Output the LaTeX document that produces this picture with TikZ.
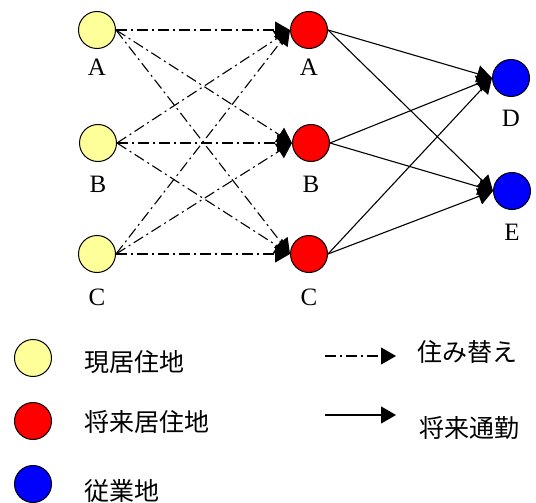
\documentclass[tikz,border=0pt]{standalone}
\usepackage{fontspec}
\setmainfont{Liberation Serif}
\newfontfamily\cjk{Noto Sans CJK JP}
\usetikzlibrary{arrows.meta}
\definecolor{curres}{HTML}{FFFF99}
\definecolor{futres}{HTML}{FF0000}
\definecolor{work}{HTML}{0000FF}
\tikzset{
  place/.style={circle, draw=black, line width=1pt, minimum size=37pt, inner sep=0pt},
  lbl/.style={font=\fontsize{25pt}{27pt}\selectfont, inner sep=0pt},
  jlbl/.style={font=\cjk\fontsize{25pt}{27pt}\selectfont, inner sep=0pt, anchor=west},
  move/.style={line width=1.1pt, dash pattern=on 11pt off 4pt on 2pt off 4pt, -{Triangle[length=15pt,width=17pt]}},
  commute/.style={line width=1.1pt, -{Triangle[length=15pt,width=17pt]}}
}
\begin{document}
\begin{tikzpicture}[x=1pt, y=-1pt]
\useasboundingbox (0,0) rectangle (536,503);
% current residences
\node[place, fill=curres] (ya) at (97,30) {};
\node[place, fill=curres] (yb) at (98,143) {};
\node[place, fill=curres] (yc) at (97,254) {};
\node[lbl] (lya) at (97,67) {A};
\node[lbl] (lyb) at (98,184) {B};
\node[lbl] (lyc) at (97,297) {C};
% future residences
\node[place, fill=futres] (ra) at (309,30) {};
\node[place, fill=futres] (rb) at (311,143) {};
\node[place, fill=futres] (rc) at (309,254) {};
\node[lbl] (lra) at (309,67) {A};
\node[lbl] (lrb) at (311,184) {B};
\node[lbl] (lrc) at (309,297) {C};
% workplaces
\node[place, fill=work] (bd) at (511,78) {};
\node[place, fill=work] (be) at (512,191) {};
\node[lbl] (lbd) at (511,118) {D};
\node[lbl] (lbe) at (512,232) {E};
% moves
\foreach \s in {ya,yb,yc}{
  \foreach \t in {ra,rb,rc}{
    \draw[move] (\s.east) -- (\t.west);
  }
}
% commutes
\foreach \s in {ra,rb,rc}{
  \foreach \t in {bd,be}{
    \draw[commute] (\s.east) -- (\t.west);
  }
}
% legend
\node[place, fill=curres] (k1) at (33,358) {};
\node[place, fill=futres] (k2) at (33,421) {};
\node[place, fill=work] (k3) at (33,484) {};
\node[jlbl] (t1) at (84,362) {現居住地};
\node[jlbl] (t2) at (84,422) {将来居住地};
\node[jlbl] (t3) at (84,491) {従業地};
\coordinate (m1) at (325,356);
\coordinate (m2) at (396,356);
\coordinate (c1) at (325,415);
\coordinate (c2) at (396,415);
\draw[move] (m1) -- (m2);
\draw[commute] (c1) -- (c2);
\node[jlbl] (t4) at (417,352) {住み替え};
\node[jlbl] (t5) at (419,428) {将来通勤};
\end{tikzpicture}
\end{document}
